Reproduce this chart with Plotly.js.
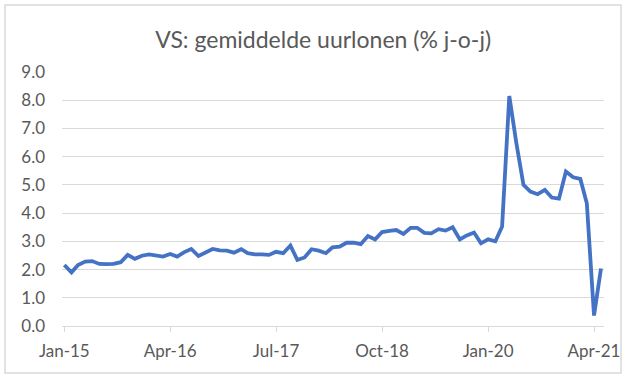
<!DOCTYPE html>
<html>
<head>
<meta charset="utf-8">
<script src="https://cdn.plot.ly/plotly-3.0.1.min.js"></script>
<style>
html,body{margin:0;padding:0;background:#fff;}
#chart{width:625px;height:381px;}
</style>
</head>
<body>
<div id="chart"></div>
<script>
// Monthly, Jan 2015 .. May 2021
const startYear = 2015, startMonth = 1;
const wageGrowth = [
  2.16, 1.90, 2.16, 2.28, 2.30, 2.20, 2.19, 2.20, 2.26, 2.52, 2.38, 2.49,
  2.54, 2.49, 2.46, 2.55, 2.46, 2.62, 2.73, 2.48, 2.61, 2.73, 2.68, 2.67,
  2.60, 2.72, 2.58, 2.54, 2.54, 2.52, 2.63, 2.58, 2.85, 2.34, 2.43, 2.72,
  2.67, 2.58, 2.79, 2.81, 2.95, 2.95, 2.90, 3.19, 3.07, 3.33, 3.37, 3.40,
  3.26, 3.48, 3.48, 3.30, 3.28, 3.43, 3.38, 3.50, 3.07, 3.21, 3.31, 2.93,
  3.07, 3.00, 3.52, 8.15, 6.50, 5.00, 4.76, 4.67, 4.82, 4.55, 4.51, 5.47,
  5.27, 5.21, 4.35, 0.37, 2.04
];
const tickDates = ['2015-01-01','2016-04-01','2017-07-01','2018-10-01','2020-01-01','2021-04-01'];
const tickLabels = ['Jan-15','Apr-16','Jul-17','Oct-18','Jan-20','Apr-21'];
const yTicks = [0,1,2,3,4,5,6,7,8,9];
const yTickLabels = yTicks.map(v => v.toFixed(1));

const months = wageGrowth.map((_, i) => {
  const m = startMonth - 1 + i;
  const y = startYear + Math.floor(m / 12);
  const mm = (m % 12) + 1;
  return y + '-' + String(mm).padStart(2, '0') + '-01';
});

const font = 'Lato, "Open Sans", sans-serif';
const grey = '#595959';
const grid = '#d9d9d9';

const trace = {
  x: months,
  y: wageGrowth,
  type: 'scatter',
  mode: 'lines',
  line: {color: '#4472C4', width: 3.8},
  hoverinfo: 'x+y'
};

const layout = {
  width: 625,
  height: 381,
  margin: {l: 62, r: 21, t: 72, b: 55},
  paper_bgcolor: '#ffffff',
  plot_bgcolor: '#ffffff',
  showlegend: false,
  title: {
    text: 'VS: gemiddelde uurlonen (% j-o-j)',
    font: {family: font, size: 23, color: grey},
    x: 0.517, xanchor: 'center',
    y: 0.895, yanchor: 'middle'
  },
  xaxis: {
    type: 'date',
    range: ['2014-12-22', '2021-05-14'],
    tickmode: 'array',
    tickvals: tickDates,
    ticktext: tickLabels,
    ticks: 'outside',
    ticklen: 5,
    tickcolor: grid,
    showgrid: false,
    showline: true,
    linecolor: grid,
    linewidth: 1,
    zeroline: false,
    tickfont: {family: font, size: 17, color: grey},
    ticklabelstandoff: 5
  },
  yaxis: {
    range: [0, 9],
    tickmode: 'array',
    tickvals: yTicks,
    ticktext: yTickLabels,
    showgrid: true,
    gridcolor: grid,
    gridwidth: 1,
    zeroline: false,
    showline: false,
    ticks: '',
    tickfont: {family: font, size: 17, color: grey},
    ticklabelstandoff: 16
  },
  shapes: [{
    type: 'rect', xref: 'paper', yref: 'paper',
    x0: (5 - 62) / 542, x1: (621 - 62) / 542,
    y0: (326 - 373) / 254, y1: (326 - 5) / 254,
    line: {color: grid, width: 1.5},
    fillcolor: 'rgba(0,0,0,0)',
    layer: 'below'
  }]
};

Plotly.newPlot('chart', [trace], layout, {staticPlot: true, displayModeBar: false});
</script>
</body>
</html>
